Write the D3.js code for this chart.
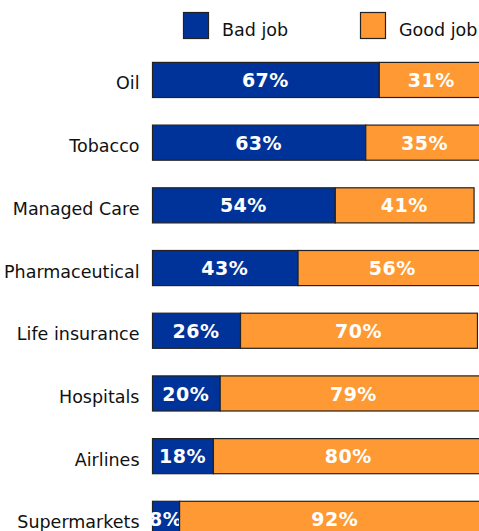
<!DOCTYPE html>
<html>
<head>
<meta charset="utf-8">
<script src="https://cdn.jsdelivr.net/npm/d3@7"></script>
<style>
  html, body { margin: 0; padding: 0; background: #fff; overflow: hidden; }
  svg { display: block; }
</style>
</head>
<body>
<script>
const categories = ["Oil", "Tobacco", "Managed Care", "Pharmaceutical", "Life insurance", "Hospitals", "Airlines", "Supermarkets"];
const badJob = [67, 63, 54, 43, 26, 20, 18, 8];
const goodJob = [31, 35, 41, 56, 70, 79, 80, 92];
const seriesNames = ["Bad job", "Good job"];
const seriesColors = ["#003399", "#FF9933"];

const W = 479, H = 531;
const svg = d3.select("body").append("svg").attr("width", W).attr("height", H);

const x = d3.scaleLinear().domain([0, 100]).range([152, 490.5]);
const y = d3.scaleBand().domain(categories).range([48.1, 48.1 + 8 * 62.7])
  .paddingInner(0.44).paddingOuter(0.22);

const rows = categories.map((c, i) => ({ cat: c, vals: [badJob[i], goodJob[i]] }));

const font = "'DejaVu Sans', Verdana, sans-serif";

// category labels
svg.append("g").selectAll("text").data(categories).join("text")
  .attr("x", 139.5)
  .attr("y", d => y(d) + y.bandwidth() / 2)
  .attr("dy", "0.57em")
  .attr("text-anchor", "end")
  .attr("font-family", font)
  .attr("font-size", 17.5)
  .attr("fill", "#111")
  .text(d => d);

// bars
const g = svg.append("g");
rows.forEach(r => {
  let acc = 0;
  r.vals.forEach((v, si) => {
    const x0 = x(acc), x1 = x(acc + v);
    g.append("rect")
      .attr("x", x0 + 0.5)
      .attr("y", y(r.cat) + 0.5)
      .attr("width", x1 - x0)
      .attr("height", y.bandwidth())
      .attr("fill", seriesColors[si])
      .attr("stroke", "#222")
      .attr("stroke-width", 1.2);
    g.append("text")
      .attr("x", (x0 + x1) / 2)
      .attr("y", y(r.cat) + y.bandwidth() / 2)
      .attr("dy", "0.4em")
      .attr("text-anchor", "middle")
      .attr("font-family", font)
      .attr("font-weight", "bold")
      .attr("font-size", 19)
      .attr("letter-spacing", 0.5)
      .attr("fill", "#fff")
      .text(v + "%");
    acc += v;
  });
});

// legend
const legX = [183, 360];
const leg = svg.append("g");
seriesNames.forEach((n, i) => {
  leg.append("rect")
    .attr("x", legX[i] + 0.5).attr("y", 12.5)
    .attr("width", 25).attr("height", 26)
    .attr("fill", seriesColors[i])
    .attr("stroke", "#222").attr("stroke-width", 1.2);
  leg.append("text")
    .attr("x", legX[i] + 39).attr("y", 36)
    .attr("font-family", font)
    .attr("font-size", 17.5)
    .attr("fill", "#111")
    .text(n);
});
</script>
</body>
</html>
